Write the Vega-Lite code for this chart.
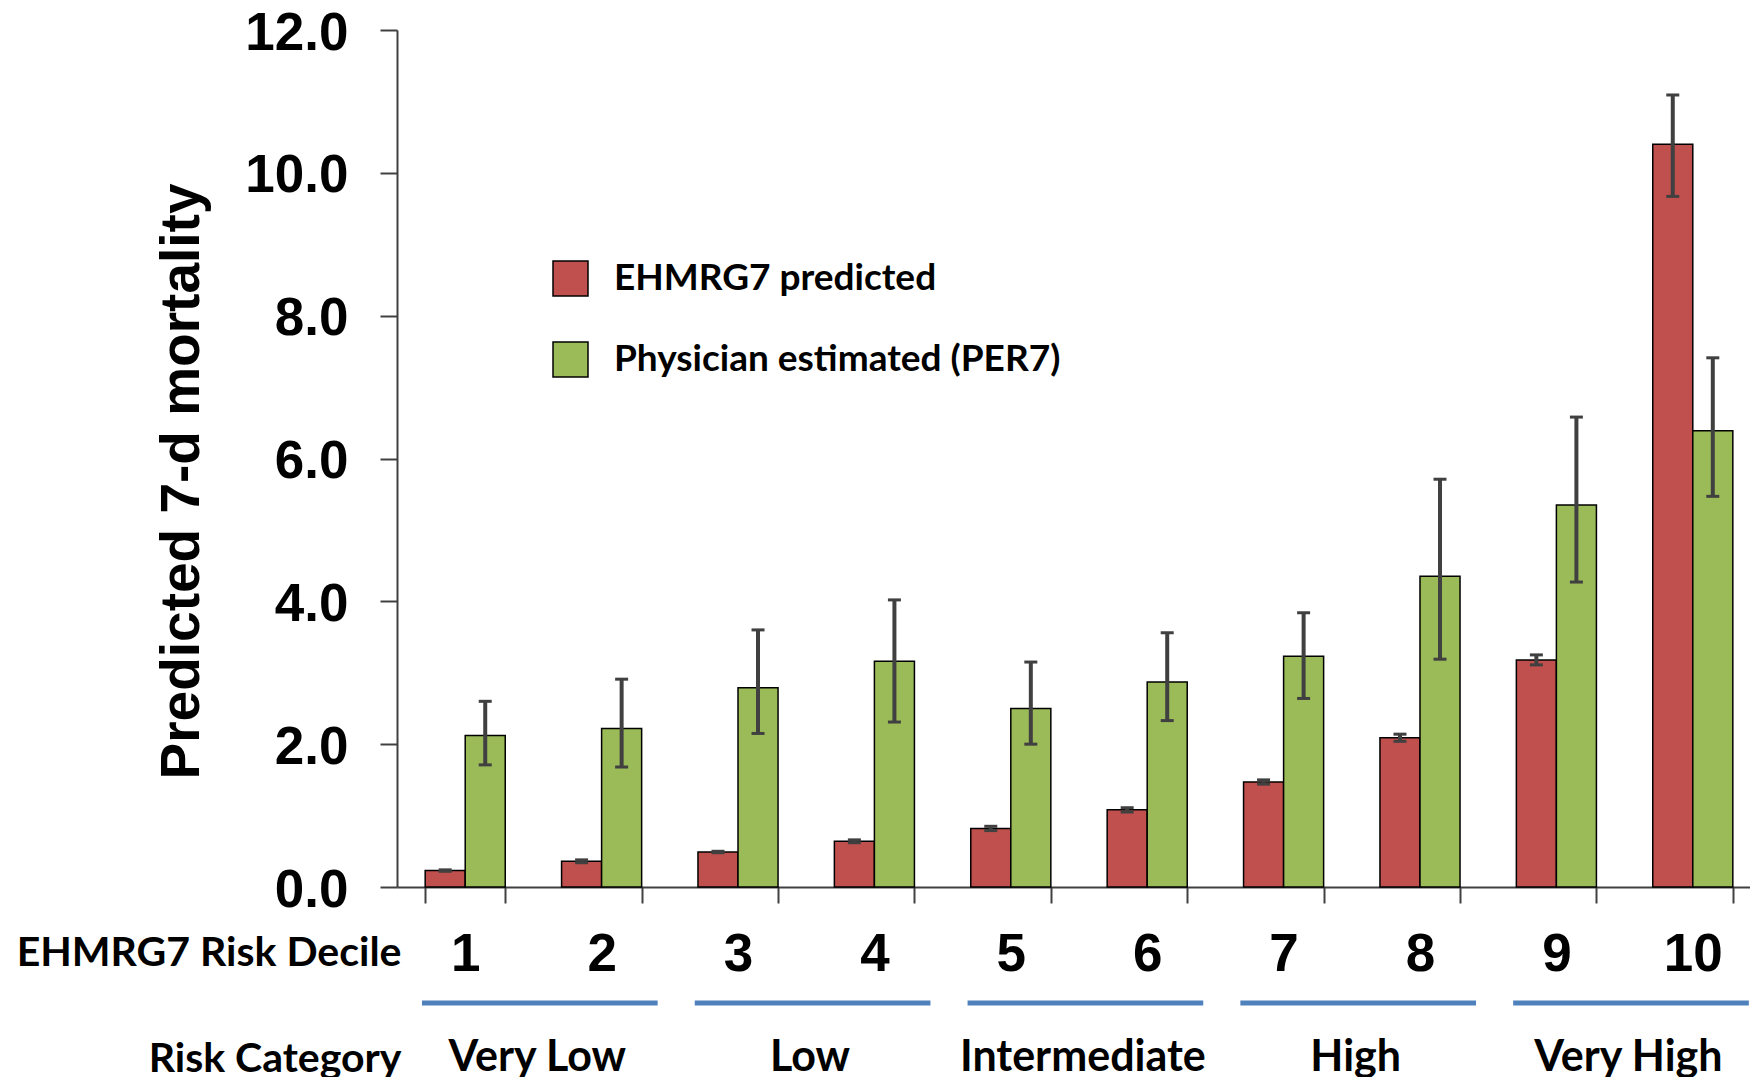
{
  "$schema": "https://vega.github.io/schema/vega-lite/v6.json",
  "description": "Predicted 7-day mortality by EHMRG7 risk decile, model vs physician estimate.",
  "autosize": "none",
  "padding": {"left": 397, "top": 30, "right": 0, "bottom": 190},
  "width": 1353,
  "height": 857,
  "background": "white",
  "datasets": {
    "bars": [
      {"decile": 1, "series": "EHMRG7 predicted", "value": 0.23, "lo": 0.22, "hi": 0.24},
      {"decile": 2, "series": "EHMRG7 predicted", "value": 0.36, "lo": 0.34, "hi": 0.38},
      {"decile": 3, "series": "EHMRG7 predicted", "value": 0.49, "lo": 0.48, "hi": 0.5},
      {"decile": 4, "series": "EHMRG7 predicted", "value": 0.64, "lo": 0.62, "hi": 0.66},
      {"decile": 5, "series": "EHMRG7 predicted", "value": 0.82, "lo": 0.79, "hi": 0.85},
      {"decile": 6, "series": "EHMRG7 predicted", "value": 1.08, "lo": 1.05, "hi": 1.11},
      {"decile": 7, "series": "EHMRG7 predicted", "value": 1.47, "lo": 1.44, "hi": 1.5},
      {"decile": 8, "series": "EHMRG7 predicted", "value": 2.09, "lo": 2.04, "hi": 2.14},
      {"decile": 9, "series": "EHMRG7 predicted", "value": 3.18, "lo": 3.11, "hi": 3.25},
      {"decile": 10, "series": "EHMRG7 predicted", "value": 10.4, "lo": 9.67, "hi": 11.09},
      {"decile": 1, "series": "Physician estimated (PER7)", "value": 2.12, "lo": 1.71, "hi": 2.6},
      {"decile": 2, "series": "Physician estimated (PER7)", "value": 2.22, "lo": 1.68, "hi": 2.91},
      {"decile": 3, "series": "Physician estimated (PER7)", "value": 2.79, "lo": 2.15, "hi": 3.6},
      {"decile": 4, "series": "Physician estimated (PER7)", "value": 3.16, "lo": 2.31, "hi": 4.02},
      {"decile": 5, "series": "Physician estimated (PER7)", "value": 2.5, "lo": 2.0, "hi": 3.15},
      {"decile": 6, "series": "Physician estimated (PER7)", "value": 2.87, "lo": 2.33, "hi": 3.56},
      {"decile": 7, "series": "Physician estimated (PER7)", "value": 3.23, "lo": 2.64, "hi": 3.84},
      {"decile": 8, "series": "Physician estimated (PER7)", "value": 4.35, "lo": 3.19, "hi": 5.71},
      {"decile": 9, "series": "Physician estimated (PER7)", "value": 5.35, "lo": 4.27, "hi": 6.58},
      {"decile": 10, "series": "Physician estimated (PER7)", "value": 6.39, "lo": 5.47, "hi": 7.41}
    ],
    "cats": [
      {"category": "Very Low", "first": 1, "last": 2},
      {"category": "Low", "first": 3, "last": 4},
      {"category": "Intermediate", "first": 5, "last": 6},
      {"category": "High", "first": 7, "last": 8},
      {"category": "Very High", "first": 9, "last": 10}
    ]
  },
  "layer": [
    {
      "data": {"name": "bars"},
      "mark": {"type": "bar", "stroke": "black", "strokeWidth": 1.5},
      "encoding": {
        "x": {
          "field": "decile",
          "type": "ordinal",
          "title": ["EHMRG7 Risk Decile", "Risk Category"],
          "scale": {"range": [0, 1364], "paddingInner": 0.413, "paddingOuter": 0.2066}
        },
        "xOffset": {"field": "series", "type": "nominal", "scale": {"paddingInner": 0, "paddingOuter": 0}},
        "y": {
          "field": "value",
          "type": "quantitative",
          "title": "Predicted 7-d mortality",
          "scale": {"domain": [0, 12], "nice": false},
          "axis": {"values": [0, 2, 4, 6, 8, 10, 12], "format": ".1f"}
        },
        "color": {
          "field": "series",
          "type": "nominal",
          "scale": {"range": ["#C0504D", "#9BBB59"]},
          "legend": {
            "orient": "none",
            "legendX": 155,
            "legendY": 230,
            "title": null,
            "symbolType": "square",
            "symbolSize": 1225,
            "symbolStrokeColor": "black",
            "symbolStrokeWidth": 1.5,
            "symbolOpacity": 1,
            "labelFont": "Lato",
            "labelFontWeight": "bold",
            "labelFontSize": 37,
            "labelColor": "black",
            "labelOffset": 25,
            "labelLimit": 0,
            "rowPadding": 40,
            "padding": 0
          }
        }
      }
    },
    {
      "data": {"name": "bars"},
      "mark": {"type": "rule", "color": "#404040", "strokeWidth": 4},
      "encoding": {
        "x": {"field": "decile", "type": "ordinal", "title": ["EHMRG7 Risk Decile", "Risk Category"]},
        "xOffset": {"field": "series", "type": "nominal"},
        "y": {"field": "lo", "type": "quantitative"},
        "y2": {"field": "hi"}
      }
    },
    {
      "data": {"name": "bars"},
      "transform": [{"fold": ["lo", "hi"], "as": ["end", "bound"]}],
      "mark": {"type": "tick", "color": "#404040", "size": 13, "thickness": 3, "opacity": 1},
      "encoding": {
        "x": {"field": "decile", "type": "ordinal", "title": ["EHMRG7 Risk Decile", "Risk Category"]},
        "xOffset": {"field": "series", "type": "nominal"},
        "y": {"field": "bound", "type": "quantitative"}
      }
    },
    {
      "data": {"name": "cats"},
      "mark": {"type": "rule", "color": "#4F81BD", "strokeWidth": 5},
      "encoding": {
        "x": {"field": "first", "type": "ordinal", "bandPosition": -0.04, "title": ["EHMRG7 Risk Decile", "Risk Category"]},
        "x2": {"field": "last", "bandPosition": 1.2},
        "y": {"datum": -1.624, "type": "quantitative"}
      }
    },
    {
      "data": {"name": "cats"},
      "mark": {"type": "text", "font": "Lato", "fontWeight": "bold", "fontSize": 43, "color": "black", "align": "center", "baseline": "alphabetic"},
      "encoding": {
        "x": {"field": "first", "type": "ordinal", "bandPosition": 1.4, "title": ["EHMRG7 Risk Decile", "Risk Category"]},
        "y": {"datum": -2.58, "type": "quantitative"},
        "text": {"field": "category"}
      }
    }
  ],
  "config": {
    "view": {"stroke": null},
    "axis": {
      "grid": false,
      "domainColor": "#404040",
      "domainWidth": 2,
      "tickColor": "#404040",
      "tickWidth": 2,
      "labelColor": "black",
      "labelFont": "Liberation Sans",
      "labelFontWeight": "bold",
      "labelFontSize": 53,
      "titleColor": "black"
    },
    "axisX": {
      "tickSize": 16,
      "tickBand": "extent",
      "labelAngle": 0,
      "labelPadding": 25,
      "titleFont": "Lato",
      "titleFontWeight": "bold",
      "titleFontSize": 41,
      "titleLineHeight": 106,
      "titleAlign": "right",
      "titleBaseline": "alphabetic",
      "titleAngle": 0,
      "titleX": 4,
      "titleY": 78
    },
    "axisY": {
      "tickSize": 17,
      "labelPadding": 32,
      "labelOffset": 3,
      "titleFont": "Liberation Sans",
      "titleFontWeight": "bold",
      "titleFontSize": 55,
      "titleAlign": "center",
      "titleBaseline": "alphabetic",
      "titleAngle": -90,
      "titleX": -199,
      "titleY": 451
    }
  }
}
